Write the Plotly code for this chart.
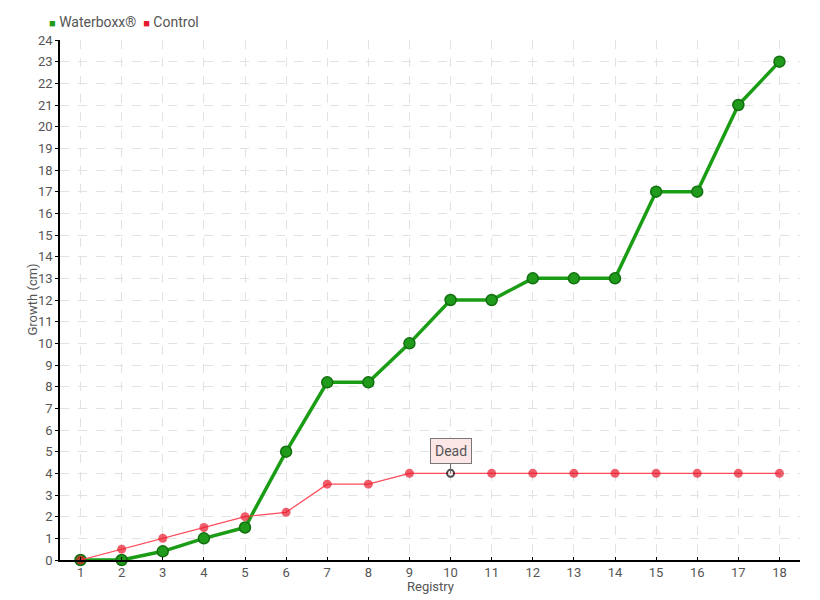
import plotly.graph_objects as go

registry = list(range(1, 19))
waterboxx = [0, 0, 0.4, 1, 1.5, 5, 8.2, 8.2, 10, 12, 12, 13, 13, 13, 17, 17, 21, 23]
control = [0, 0.5, 1, 1.5, 2, 2.2, 3.5, 3.5, 4, 4, 4, 4, 4, 4, 4, 4, 4, 4]
y_ticks = list(range(0, 25))
dead_index = 9

FONT = "Roboto, sans-serif"
TXT = "#555555"
GREEN = "#1f9a1a"
RED = "#e8192c"

fig = go.Figure()
fig.add_trace(go.Scatter(
    x=registry, y=waterboxx, mode="lines+markers", name="Waterboxx®", showlegend=False,
    line=dict(color="#1a9c14", width=3.5), cliponaxis=False,
    marker=dict(size=11, color=GREEN, line=dict(color="#137010", width=1.5)),
))
ctrl_sizes = [9] * len(control)
ctrl_colors = [RED] * len(control)
ctrl_line_c = [RED] * len(control)
ctrl_line_w = [0] * len(control)
ctrl_colors[dead_index] = "white"
ctrl_line_c[dead_index] = "black"
ctrl_line_w[dead_index] = 2
ctrl_sizes[dead_index] = 7
fig.add_trace(go.Scatter(
    x=registry, y=control, mode="lines+markers", name="Control", showlegend=False,
    line=dict(color="#ff4a5a", width=1.2), cliponaxis=False,
    marker=dict(size=ctrl_sizes, color=ctrl_colors, line=dict(color=ctrl_line_c, width=ctrl_line_w)),
))

fig.add_annotation(
    x=registry[dead_index], y=control[dead_index], text="Dead",
    showarrow=True, arrowhead=0, arrowwidth=1, arrowcolor="#666666",
    ax=0, ay=-22, bgcolor="#fde6e6", bordercolor="#777777", borderwidth=1,
    borderpad=4, font=dict(family=FONT, size=14, color=TXT),
)

# legend drawn as text (plot area spans page px 60..800 x, 40..560 y)
fig.add_annotation(
    xref="paper", yref="paper", x=-0.018, y=1.0346, xanchor="left", yanchor="middle",
    showarrow=False,
    text=(f"<span style='color:{GREEN};font-size:11px'>■</span> Waterboxx®  "
          f"<span style='color:{RED};font-size:11px'>■</span> Control"),
    font=dict(family=FONT, size=14, color=TXT),
)
# axis titles
fig.add_annotation(
    xref="paper", yref="paper", x=0.5, y=-0.051, xanchor="center", yanchor="middle",
    showarrow=False, text="Registry", font=dict(family=FONT, size=13, color=TXT),
)
fig.add_annotation(
    xref="paper", yref="paper", x=-0.0385, y=0.5, xanchor="center", yanchor="middle",
    showarrow=False, text="Growth (cm)", textangle=-90, font=dict(family=FONT, size=13, color=TXT),
)

# page body adds an 8px offset, so margins are shifted to land the plot at 60..800, 40..560
fig.update_layout(
    width=820, height=600,
    margin=dict(l=52, r=28, t=32, b=48, autoexpand=False),
    paper_bgcolor="white", plot_bgcolor="white",
    font=dict(family=FONT, size=13, color=TXT),
    showlegend=False,
    xaxis=dict(
        range=[0.5, 18.5], tickmode="array", tickvals=registry, ticktext=[str(r) for r in registry],
        showline=True, linecolor="black", linewidth=1.5,
        ticks="inside", ticklen=3, tickcolor="black", ticklabelstandoff=0,
        showgrid=True, gridcolor="#e2e2e2", griddash="dash", gridwidth=1,
        zeroline=False, automargin=False,
        tickfont=dict(size=13),
    ),
    yaxis=dict(
        range=[0, 24], tickmode="array", tickvals=y_ticks,
        showline=True, linecolor="black", linewidth=1.5,
        ticks="outside", ticklen=3, tickcolor="black", ticklabelstandoff=0,
        showgrid=True, gridcolor="#e2e2e2", griddash="dash", gridwidth=1,
        zeroline=False, automargin=False,
        tickfont=dict(size=13),
    ),
)

fig.write_html("out.html")
